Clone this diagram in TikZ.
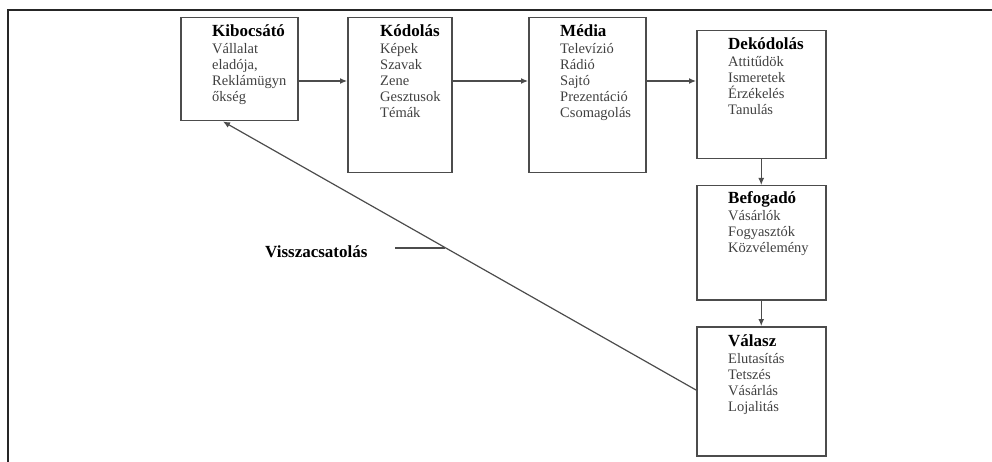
\documentclass[tikz,border=0pt]{standalone}
\usepackage{fontspec}
\setmainfont{Liberation Serif}
\usetikzlibrary{positioning,arrows.meta}
\definecolor{linegray}{gray}{0.3}
\definecolor{textgray}{gray}{0.25}
\tikzset{
  stage/.style={draw=linegray,line width=1.5pt,minimum width=#1,inner sep=0pt,anchor=north west},
  stagetext/.style={anchor=north west,align=left,inner sep=0pt,
    font=\fontsize{14.5}{16}\selectfont,text=textgray},
  flow/.style={draw=linegray,line width=1.2pt,-{Latex[length=7pt,width=6pt]}}
}
\newcommand{\stagehead}[1]{{\color{black}\fontsize{17}{17}\selectfont\bfseries #1}\\[1pt]}
\begin{document}
\begin{tikzpicture}[x=1pt,y=-1pt]
  \useasboundingbox (0,0) rectangle (992,462);
  %% frame
  \draw[line width=2.6pt,black!85] (8,462) -- (8,10) -- (992,10);
  %% top row
  \node[stage=117pt,minimum height=103pt] (kib) at (180,17) {};
  \node[stagetext,below right=7pt and 32pt of kib.north west]
    {\stagehead{Kibocsátó}Vállalat\\eladója,\\Reklámügyn\\őkség};
  \node[stage=104pt,minimum height=155pt] (kod) at (347,17) {};
  \node[stagetext,below right=7pt and 33pt of kod.north west]
    {\stagehead{Kódolás}Képek\\Szavak\\Zene\\Gesztusok\\Témák};
  \node[stage=117pt,minimum height=155pt] (med) at (528,17) {};
  \node[stagetext,below right=7pt and 32pt of med.north west]
    {\stagehead{Média}Televízió\\Rádió\\Sajtó\\Prezentáció\\Csomagolás};
  \node[stage=129pt,minimum height=128pt] (dek) at (696,30) {};
  \node[stagetext,below right=7pt and 32pt of dek.north west]
    {\stagehead{Dekódolás}Attitűdök\\Ismeretek\\Érzékelés\\Tanulás};
  %% right column
  \node[stage=129pt,minimum height=114pt] (bef) at (696,185) {};
  \node[stagetext,below right=6pt and 32pt of bef.north west]
    {\stagehead{Befogadó}Vásárlók\\Fogyasztók\\Közvélemény};
  \node[stage=129pt,minimum height=129pt] (val) at (696,326) {};
  \node[stagetext,below right=8pt and 32pt of val.north west]
    {\stagehead{Válasz}Elutasítás\\Tetszés\\Vásárlás\\Lojalitás};
  %% arrows
  \draw[flow] (kib.east |- 0,81) -- (kod.west |- 0,81);
  \draw[flow] (kod.east |- 0,81) -- (med.west |- 0,81);
  \draw[flow] (med.east |- 0,81) -- (dek.west |- 0,81);
  \draw[flow] (dek.south) -- (bef.north);
  \draw[flow] (bef.south) -- (val.north);
  %% feedback
  \coordinate (fbend) at (kib.south west -| 223,0);
  \draw[flow] (val.west |- 0,390) -- (fbend);
  \node[font=\fontsize{17}{17}\selectfont\bfseries,anchor=east] (fblabel) at (371,252) {Visszacsatolás};
  \draw[draw=linegray,line width=1.2pt] (395,248) -- (445,248);
\end{tikzpicture}
\end{document}
